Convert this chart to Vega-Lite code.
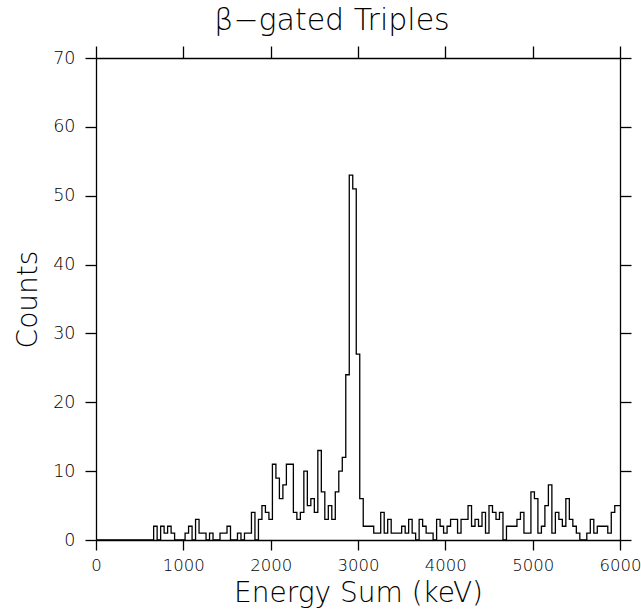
{
  "$schema": "https://vega.github.io/schema/vega-lite/v6.json",
  "width": 524,
  "height": 482,
  "autosize": {"type": "none"},
  "padding": {"left": 96, "top": 58, "right": 21, "bottom": 70},
  "background": "white",
  "title": {"text": "β−gated Triples", "fontSize": 30, "font": "DejaVu Sans", "fontWeight": 200, "color": "black", "offset": 9, "anchor": "middle", "dx": -26},
  "data": {"values": [
    {"E":0,"c":0},{"E":620,"c":0},
    {"E":660,"c":2},{"E":700,"c":0},{"E":740,"c":2},{"E":780,"c":1},{"E":820,"c":2},{"E":860,"c":1},{"E":900,"c":0},{"E":940,"c":0},{"E":980,"c":0},
    {"E":1020,"c":1},{"E":1060,"c":2},{"E":1100,"c":0},{"E":1140,"c":3},{"E":1180,"c":1},{"E":1220,"c":1},{"E":1260,"c":0},{"E":1300,"c":1},{"E":1340,"c":0},{"E":1380,"c":0},
    {"E":1420,"c":1},{"E":1460,"c":1},{"E":1500,"c":2},{"E":1540,"c":0},{"E":1580,"c":0},{"E":1620,"c":1},{"E":1660,"c":0},{"E":1700,"c":1},{"E":1740,"c":1},{"E":1780,"c":4},
    {"E":1820,"c":0},{"E":1860,"c":3},{"E":1900,"c":5},{"E":1940,"c":4},{"E":1980,"c":3},
    {"E":2020,"c":11},{"E":2060,"c":9},{"E":2100,"c":6},{"E":2140,"c":8},{"E":2180,"c":11},{"E":2220,"c":11},{"E":2260,"c":4},{"E":2300,"c":3},{"E":2340,"c":4},{"E":2380,"c":10},
    {"E":2420,"c":5},{"E":2460,"c":6},{"E":2500,"c":4},{"E":2540,"c":13},{"E":2580,"c":7},{"E":2620,"c":3},{"E":2660,"c":5},{"E":2700,"c":3},{"E":2740,"c":7},{"E":2780,"c":10},
    {"E":2820,"c":12},{"E":2860,"c":24},{"E":2900,"c":53},{"E":2940,"c":51},{"E":2980,"c":27},{"E":3020,"c":6},{"E":3060,"c":2},{"E":3100,"c":2},{"E":3140,"c":2},{"E":3180,"c":1},
    {"E":3220,"c":1},{"E":3260,"c":4},{"E":3300,"c":1},{"E":3340,"c":3},{"E":3380,"c":1},{"E":3420,"c":1},{"E":3460,"c":1},{"E":3500,"c":2},{"E":3540,"c":1},{"E":3580,"c":3},
    {"E":3620,"c":1},{"E":3660,"c":0},{"E":3700,"c":3},{"E":3740,"c":2},{"E":3780,"c":1},{"E":3820,"c":1},{"E":3860,"c":0},{"E":3900,"c":3},{"E":3940,"c":2},{"E":3980,"c":1},
    {"E":4020,"c":2},{"E":4060,"c":3},{"E":4100,"c":3},{"E":4140,"c":1},{"E":4180,"c":3},{"E":4220,"c":3},{"E":4260,"c":5},{"E":4300,"c":2},{"E":4340,"c":3},{"E":4380,"c":2},
    {"E":4420,"c":4},{"E":4460,"c":1},{"E":4500,"c":5},{"E":4540,"c":4},{"E":4580,"c":3},{"E":4620,"c":4},{"E":4660,"c":0},{"E":4700,"c":2},{"E":4740,"c":2},{"E":4780,"c":2},
    {"E":4820,"c":3},{"E":4860,"c":4},{"E":4900,"c":1},{"E":4940,"c":1},{"E":4980,"c":7},{"E":5020,"c":6},{"E":5060,"c":1},{"E":5100,"c":2},{"E":5140,"c":5},{"E":5180,"c":8},
    {"E":5220,"c":1},{"E":5260,"c":4},{"E":5300,"c":3},{"E":5340,"c":2},{"E":5380,"c":6},{"E":5420,"c":3},{"E":5460,"c":2},{"E":5500,"c":1},{"E":5540,"c":0},{"E":5580,"c":0},
    {"E":5620,"c":1},{"E":5660,"c":3},{"E":5700,"c":1},{"E":5740,"c":2},{"E":5780,"c":2},{"E":5820,"c":2},{"E":5860,"c":1},{"E":5900,"c":4},{"E":5940,"c":5},{"E":5980,"c":5},{"E":6000,"c":5}
  ]},
  "layer": [
    {
      "mark": {"type": "line", "interpolate": "step-after", "color": "black", "strokeWidth": 1.3, "clip": true},
      "encoding": {
        "x": {"field": "E", "type": "quantitative", "scale": {"domain": [0, 6000], "nice": false, "zero": false},
          "axis": {"orient": "bottom", "title": "Energy Sum (keV)", "values": [0,1000,2000,3000,4000,5000,6000], "format": "d", "labelFlush": false, "labelOverlap": false, "grid": false, "tickSize": 10, "labelPadding": 7, "titlePadding": 6, "labelFontSize": 16.5}},
        "y": {"field": "c", "type": "quantitative", "scale": {"domain": [0, 70], "nice": false},
          "axis": {"orient": "left", "title": "Counts", "values": [0,10,20,30,40,50,60,70], "grid": false, "tickSize": 11, "labelPadding": 10, "titlePadding": 10}}
      }
    },
    {
      "mark": {"type": "line", "opacity": 0},
      "encoding": {
        "x": {"field": "E", "type": "quantitative", "scale": {"domain": [0, 6000], "nice": false, "zero": false},
          "axis": {"orient": "top", "title": null, "labels": false, "values": [0,1000,2000,3000,4000,5000,6000], "grid": false, "tickSize": 12}},
        "y": {"field": "c", "type": "quantitative", "scale": {"domain": [0, 70], "nice": false},
          "axis": {"orient": "right", "title": null, "labels": false, "values": [0,10,20,30,40,50,60,70], "grid": false, "tickSize": 11}}
      }
    }
  ],
  "resolve": {"axis": {"x": "independent", "y": "independent"}},
  "config": {
    "view": {"stroke": null},
    "axis": {
      "domainColor": "black", "domainWidth": 1.3, "tickColor": "black", "tickWidth": 1.3,
      "labelColor": "black", "labelFont": "DejaVu Sans", "labelFontWeight": 200, "labelFontSize": 17.5,
      "titleColor": "black", "titleFont": "DejaVu Sans", "titleFontWeight": 200, "titleFontSize": 28
    }
  }
}
